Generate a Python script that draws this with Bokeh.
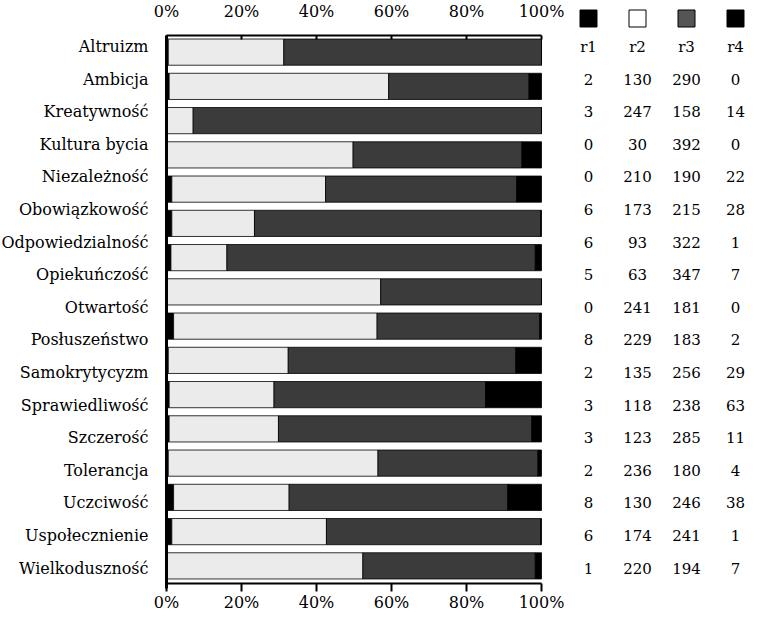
import numpy as np
from bokeh.plotting import figure
from bokeh.models import (ColumnDataSource, Range1d, LinearAxis, FixedTicker,
                          NumeralTickFormatter)
from bokeh.core.properties import value
from bokeh.embed import file_html
from bokeh.resources import INLINE

# ---------------- data ----------------
categories = ["Altruizm", "Ambicja", "Kreatywność", "Kultura bycia", "Niezależność",
              "Obowiązkowość", "Odpowiedzialność", "Opiekuńczość", "Otwartość",
              "Posłuszeństwo", "Samokrytycyzm", "Sprawiedliwość", "Szczerość",
              "Tolerancja", "Uczciwość", "Uspołecznienie", "Wielkoduszność"]
series = ["r1", "r2", "r3", "r4"]
r1 = [2, 3, 0, 0, 6, 6, 5, 0, 8, 2, 3, 3, 2, 8, 6, 1]
r2 = [130, 247, 30, 210, 173, 93, 63, 241, 229, 135, 118, 123, 236, 130, 174, 220]
r3 = [290, 158, 392, 190, 215, 322, 347, 181, 183, 256, 238, 285, 180, 246, 241, 194]
r4 = [0, 14, 0, 22, 28, 1, 7, 0, 2, 29, 63, 11, 4, 38, 1, 7]
x_ticks = [0, 0.2, 0.4, 0.6, 0.8, 1.0]

# ---------------- style / layout (pixels on the canvas) ----------------
colors = ["#000000", "#ebebeb", "#3b3b3b", "#000000"]
key_colors = ["#000000", "#ffffff", "#555555", "#000000"]
FONT = "DejaVu Serif"
W, H = 745, 612
AXIS_X = 166.0             # left axis line (0 %)
SPAN = 375.0               # pixels from 0% to 100%
ROW, ROW0 = 32.6, 46.0     # pitch and position of the label / table rows
BAR_TOP, BAR_BOT = 34.5, 582.5   # top and bottom axis lines
KEY_Y = 18.0               # centre of the colour keys
COL_PX = [588, 637, 686, 735]    # table column centres


def row_units(px):
    return (px - ROW0) / ROW


n_bars = len(r1)
pitch = (BAR_BOT - BAR_TOP) / n_bars


def bar_units(px):
    return (px - BAR_TOP) / pitch - 0.5


def x_units(px):
    return (px - AXIS_X) / SPAN


counts = np.array([r1, r2, r3, r4], dtype=float)
totals = counts.sum(axis=0)
src = ColumnDataSource({"y": list(range(n_bars)),
                        **{s: counts[k] / totals for k, s in enumerate(series)}})

p = figure(width=W, height=H,
           x_range=Range1d(x_units(0), x_units(W)),
           y_range=Range1d(row_units(H), row_units(0)),
           output_backend="svg", toolbar_location=None,
           x_axis_location=None, y_axis_location=None,
           min_border_left=0, min_border_right=0,
           min_border_top=0, min_border_bottom=0)
p.outline_line_color = None
p.xgrid.visible = False
p.ygrid.visible = False
p.extra_y_ranges = {"bars": Range1d(bar_units(H), bar_units(0))}

p.hbar_stack(series, y="y", height=0.765, source=src, y_range_name="bars",
             fill_color=colors, line_color="black", line_width=0.8)

xt = FixedTicker(ticks=x_ticks)
fmt = NumeralTickFormatter(format="0%")


def style_x(ax):
    ax.minor_tick_line_color = None
    ax.major_tick_line_color = "black"
    ax.major_tick_line_width = 2
    ax.axis_line_color = "black"
    ax.axis_line_width = 2
    ax.major_label_text_font = FONT
    ax.major_label_text_font_size = "16px"
    ax.major_label_text_color = "black"


below = LinearAxis(ticker=xt, formatter=fmt, bounds=(0, 1),
                   fixed_location=row_units(BAR_BOT))
style_x(below)
below.major_tick_out = 8
below.major_tick_in = 0
below.major_label_standoff = 2
p.add_layout(below, "below")

above = LinearAxis(ticker=xt, formatter=fmt, bounds=(0, 1),
                   fixed_location=row_units(BAR_TOP))
style_x(above)
above.major_tick_out = 0
above.major_tick_in = 4
above.major_label_standoff = 14
p.add_layout(above, "above")

left = LinearAxis(ticker=FixedTicker(ticks=list(range(len(categories)))),
                  major_label_overrides={i: c for i, c in enumerate(categories)},
                  bounds=(row_units(BAR_TOP), row_units(BAR_BOT + 5)),
                  fixed_location=0)
left.axis_line_width = 3
left.axis_line_color = "black"
left.major_tick_line_color = None
left.minor_tick_line_color = None
left.major_tick_out = 0
left.major_tick_in = 0
left.major_label_standoff = 18
left.major_label_text_font = FONT
left.major_label_text_font_size = "16px"
left.major_label_text_color = "black"
p.add_layout(left, "left")

# ---------------- table on the right ----------------
col_x = [x_units(c) for c in COL_PX]
p.scatter(x=col_x, y=[row_units(KEY_Y)] * 4, marker="square", size=17,
          fill_color=key_colors, line_color="black", line_width=1)

tx, ty, tt = [], [], []
for j, s in enumerate(series):
    tx.append(col_x[j]); ty.append(0); tt.append(s)
    for i, v in enumerate([r1, r2, r3, r4][j]):
        tx.append(col_x[j]); ty.append(i + 1); tt.append(str(v))
p.text(x=tx, y=ty, text=tt, text_font=value(FONT), text_font_size="15px",
       text_align="center", text_baseline="middle", text_color="black")

open("out.html", "w").write(file_html(p, INLINE))
